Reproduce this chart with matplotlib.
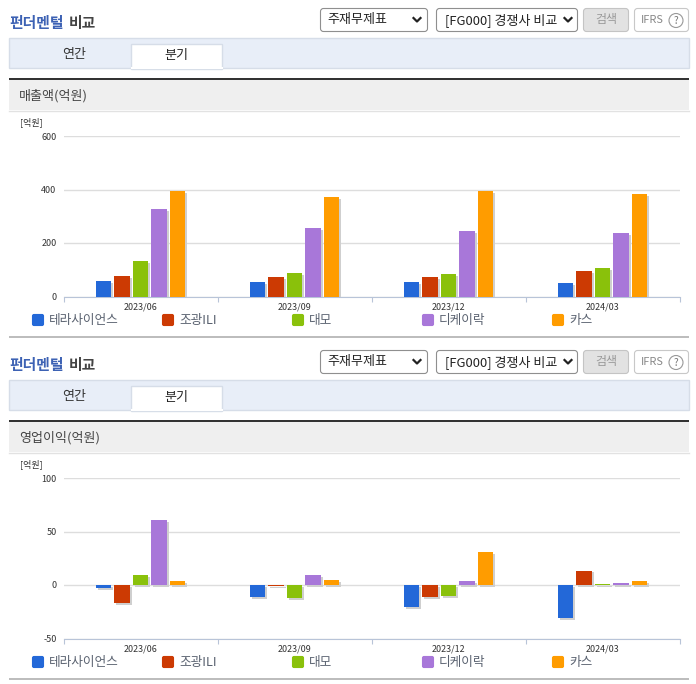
import numpy as np
import matplotlib
matplotlib.use("Agg")
import matplotlib.pyplot as plt
import matplotlib.patheffects as pe
from matplotlib.patches import FancyBboxPatch, Rectangle

plt.rcParams["font.family"] = ["Noto Sans CJK KR", "DejaVu Sans"]

# ------------------------------------------------------------
# Data
# ------------------------------------------------------------
quarters = ["2023/06", "2023/09", "2023/12", "2024/03"]
companies = ["테라사이언스", "조광ILI", "대모", "디케이락", "카스"]
colors = ["#2368d8", "#cc3a03", "#8ac10b", "#a877d9", "#ff9c00"]

sales = {
    "테라사이언스": [58, 54, 54, 50],
    "조광ILI": [76, 72, 72, 95],
    "대모": [132, 87, 83, 106],
    "디케이락": [326, 255, 244, 237],
    "카스": [394, 373, 394, 383],
}
profit = {
    "테라사이언스": [-3, -11, -21, -31],
    "조광ILI": [-17, -1, -11, 13.5],
    "대모": [9, -12, -10, 1],
    "디케이락": [61, 9, 3.5, 1.5],
    "카스": [4, 5, 31, 4],
}
sales_ticks = [0, 200, 400, 600]
profit_ticks = [-50, 0, 50, 100]

W, H = 696, 684
fig = plt.figure(figsize=(W / 100, H / 100), dpi=100, facecolor="white")

# page chrome drawn in pixel coordinates
bg = fig.add_axes([0, 0, 1, 1], zorder=0)
bg.set_xlim(0, W)
bg.set_ylim(H, 0)
bg.axis("off")


def px(size):
    return size * 0.72


def box(x0, y0, x1, y1, fc, ec, r=3, lw=0.8):
    bg.add_patch(FancyBboxPatch((x0, y0), x1 - x0, y1 - y0, boxstyle=f"round,pad=0,rounding_size={r}",
                                fc=fc, ec=ec, lw=lw))


def chevron(x, y):
    bg.plot([x - 3.5, x, x + 3.5], [y - 2, y + 1.5, y - 2], color="#222222", lw=1.6)


def draw_panel(dy, band_title):
    # heading
    bg.text(9.5, 23 + dy, "펀더멘털", color="#3d62b4", fontsize=px(14.8), va="center", fontweight="bold")
    bg.text(69, 23 + dy, "비교", color="#444444", fontsize=px(14.8), va="center", fontweight="bold")

    # selects and buttons
    box(320.5, 8.5 + dy, 427.5, 31.5 + dy, "white", "#8f8f8f")
    bg.text(327, 20 + dy, "주재무제표", color="#222222", fontsize=px(13), va="center")
    chevron(417, 20 + dy)
    box(436.5, 8.5 + dy, 577.5, 31.5 + dy, "white", "#8f8f8f")
    bg.text(445, 20 + dy, "[FG000] 경쟁사 비교", color="#222222", fontsize=px(13), va="center")
    chevron(568, 20 + dy)
    box(583.5, 8.5 + dy, 628.5, 31.5 + dy, "#e2e2e2", "#c4c4c4")
    bg.text(606, 20 + dy, "검색", color="#999999", fontsize=px(12), va="center", ha="center")
    box(634.5, 8.5 + dy, 688.5, 31.5 + dy, "white", "#c8c8c8")
    bg.text(641, 20 + dy, "IFRS", color="#888888", fontsize=px(11), va="center")
    bg.text(676, 20.5 + dy, "?", color="#777777", fontsize=px(10), va="center", ha="center",
            bbox=dict(boxstyle="circle,pad=0.2", fc="white", ec="#999999", lw=0.8))

    # tab strip
    bg.add_patch(Rectangle((9, 38 + dy), 680, 29.5, fc="#e8eef8", ec="#d6dde8", lw=1))
    bg.add_patch(Rectangle((131, 43.5 + dy), 91, 25, fc="white", ec="#d6dde8", lw=1))
    bg.plot([131.5, 221.5], [68 + dy, 68 + dy], color="white", lw=1.5)
    bg.text(74, 54.5 + dy, "연간", color="#333333", fontsize=px(13), va="center", ha="center")
    bg.text(176, 55 + dy, "분기", color="#222222", fontsize=px(13), va="center", ha="center")

    # dark rule and title band
    bg.add_patch(Rectangle((9, 80 + dy), 680, 30, fc="#efefef", ec="none"))
    bg.add_patch(Rectangle((9, 78 + dy), 680, 2, fc="#333333", ec="none"))
    bg.plot([9, 689], [110.5 + dy, 110.5 + dy], color="#e2e2e2", lw=1)
    bg.text(19, 95.5 + dy, band_title, color="#444444", fontsize=px(13), va="center")
    bg.text(20, 122 + dy, "[억원]", color="#333333", fontsize=px(9), va="center")

    # legend row
    for i, (name, c) in enumerate(zip(companies, colors)):
        x = 32 + 130 * i
        box(x + 0.5, 314.5 + dy, x + 11.5, 325.5 + dy, c, c, r=1.5)
        bg.text(x + 17, 320.5 + dy, name, color="#5a6270", fontsize=px(12.7), va="center")

    # bottom rule
    bg.add_patch(Rectangle((9, 336 + dy), 680, 2, fc="#bdbdbd", ec="none"))


def draw_chart(top, bottom, values, ticks):
    ax = fig.add_axes([63.5 / W, 1 - bottom / H, 616 / W, (bottom - top) / H], zorder=2)
    ax.patch.set_alpha(0)
    x = np.arange(len(quarters))
    width = 0.1
    step = 0.12
    shadow = [pe.SimplePatchShadow(offset=(1.4, -1.4), shadow_rgbFace="#cfcfcf", alpha=1), pe.Normal()]
    for i, (name, c) in enumerate(zip(companies, colors)):
        bars = ax.bar(x + (i - 2) * step, values[name], width, color=c, zorder=3)
        for b in bars:
            b.set_path_effects(shadow)
    ax.set_xlim(-0.5, 3.5)
    ax.set_ylim(ticks[0], ticks[-1])
    ax.set_yticks(ticks)
    ax.set_yticklabels([str(t) for t in ticks], fontsize=px(9), color="#333333")
    ax.tick_params(axis="y", length=0, pad=5)
    ax.yaxis.grid(True, color="#dddddd", lw=1)
    ax.set_axisbelow(True)
    ax.set_xticks(np.arange(5) - 0.5)
    ax.set_xticklabels([])
    ax.set_xticks(x, minor=True)
    ax.set_xticklabels(quarters, minor=True, fontsize=px(9), color="#333333")
    ax.tick_params(axis="x", which="major", length=3.5, color="#b8c4d8", width=0.8)
    ax.tick_params(axis="x", which="minor", length=0, pad=4)
    for side in ["top", "left", "right"]:
        ax.spines[side].set_visible(False)
    ax.spines["bottom"].set_color("#b8c4d8")
    ax.spines["bottom"].set_linewidth(0.8)
    return ax


draw_panel(0, "매출액(억원)")
draw_panel(342, "영업이익(억원)")
draw_chart(136, 296.5, sales, sales_ticks)
draw_chart(478, 638.5, profit, profit_ticks)

fig.savefig("out.png", dpi=100)
